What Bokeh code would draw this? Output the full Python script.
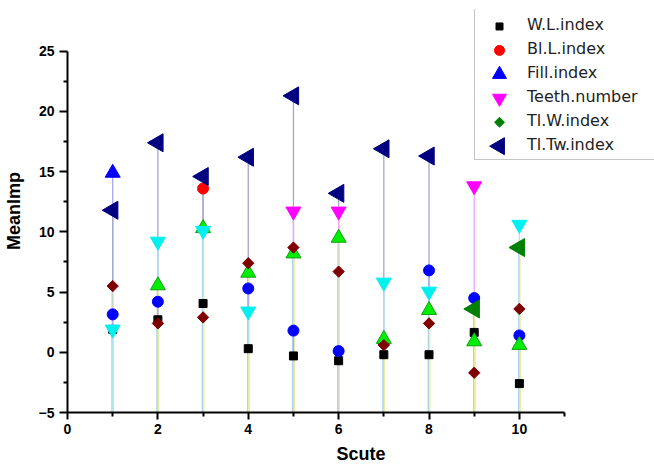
import math
from bokeh.plotting import figure
from bokeh.models import Legend, LegendItem, Range1d, FixedTicker, ColumnDataSource
from bokeh.embed import file_html
from bokeh.resources import INLINE

# ---------------- data ----------------
scute = [1, 2, 3, 4, 5, 6, 7, 8, 9, 10]
wl_index     = [1.9, 2.7, 4.05, 0.3, -0.3, -0.7, -0.2, -0.2, 1.65, -2.6]
bll_index    = [3.15, 4.2, 13.6, 5.3, 1.8, 0.1, 0.8, 6.8, 4.5, 1.4]
fill_index   = [14.9, 5.55, 10.3, 6.6, 8.2, 9.5, 1.1, 3.5, 0.9, 0.6]
teeth_number = [1.9, 9.2, 10.1, 3.4, 11.7, 11.7, 5.8, 5.05, 13.8, 10.6]
tlw_index    = [5.5, 2.4, 2.9, 7.4, 8.7, 6.7, 0.6, 2.4, -1.7, 3.6]
tltw_index   = [11.8, 17.4, 14.6, 16.2, 21.3, 13.2, 16.9, 16.3, 3.6, 8.7]

series_names = ["W.L.index", "Bl.L.index", "Fill.index", "Teeth.number", "Tl.W.index", "Tl.Tw.index"]
x_ticks = [0, 2, 4, 6, 8, 10]
x_minor = [1, 3, 5, 7, 9, 11]
y_ticks = [-5, 0, 5, 10, 15, 20, 25]
y_minor = [-2.5, 2.5, 7.5, 12.5, 17.5, 22.5]

# ---------------- styles ----------------
BLACK, RED, BLUE, MAGENTA = "#000000", "#ff0000", "#0000ff", "#ff00ff"
GREEN, NAVY, CYAN, LIME, BROWN = "#008000", "#000080", "#00f0f0", "#00ee00", "#800000"

wl_colors    = [BLACK] * 10
bll_colors   = [BLUE, BLUE, RED, BLUE, BLUE, BLUE, BLUE, BLUE, BLUE, BLUE]
fill_colors  = [BLUE] + [LIME] * 9
teeth_colors = [CYAN, CYAN, CYAN, CYAN, MAGENTA, MAGENTA, CYAN, CYAN, MAGENTA, CYAN]
tlw_colors   = [BROWN] * 10
tltw_colors  = [NAVY] * 8 + [GREEN, GREEN]

legend_colors = [BLACK, RED, BLUE, MAGENTA, GREEN, NAVY]
markers = ["square", "circle", "triangle", "inverted_triangle", "square", "triangle"]
sizes = [8, 11, 15, 15, 8, 18]
angles = [0, 0, 0, 0, math.pi / 4, math.pi / 2]
legend_sizes = [7, 10, 14, 14, 7, 17]

all_vals = [wl_index, bll_index, fill_index, teeth_number, tlw_index, tltw_index]
all_cols = [wl_colors, bll_colors, fill_colors, teeth_colors, tlw_colors, tltw_colors]

pale = {NAVY: ["#a6a6d2"], MAGENTA: ["#f2a6f2"], BLUE: ["#a8a8f4"], RED: ["#a6a6d2"],
        CYAN: ["#a6e6f2"]}
default_pale = ["#a8d4f4", "#eeee9a"]
outline = {LIME: "#10a010"}

Y0 = -5

# layout (pixels)
W, H = 654, 466
ML, MR, MT, MB = 67, 0, 9, 53
FW, FH = W - ML - MR, H - MT - MB
LEG_LEFT, LEG_TOP, LEG_PAD, LEG_ROW, LEG_GLYPH_W = 474, 11, 3, 24, 44

p = figure(width=W, height=H, x_range=Range1d(0, 12.99), y_range=Range1d(-5, 28.47),
           output_backend="svg", toolbar_location=None,
           min_border_left=ML, min_border_right=MR, min_border_top=MT, min_border_bottom=MB)
p.outline_line_color = None
p.xgrid.visible = False
p.ygrid.visible = False
p.background_fill_color = "white"
# pixel coordinate system of the frame, used only to place the legend keys
p.extra_x_ranges = {"px": Range1d(0, FW)}
p.extra_y_ranges = {"px": Range1d(0, FH)}

# ---- drop lines ----
sx0, sy0, sx1, sy1, sc = [], [], [], [], []
for i, xv in enumerate(scute):
    pts = [(all_vals[k][i], all_cols[k][i]) for k in range(6)]
    pts.sort(key=lambda t: -t[0])
    for v, c in pts:
        lc = pale.get(c, default_pale)
        offs = [0.0] if len(lc) == 1 else [-0.012, 0.012]
        for col, o in zip(lc, offs):
            sx0.append(xv + o); sx1.append(xv + o)
            sy0.append(Y0); sy1.append(v); sc.append(col)
p.segment(x0="x0", y0="y0", x1="x1", y1="y1", line_color="c", line_width=1.3,
          source=ColumnDataSource(dict(x0=sx0, y0=sy0, x1=sx1, y1=sy1, c=sc)))

# ---- markers ----
for k in range(6):
    src = ColumnDataSource(dict(x=scute, y=all_vals[k], c=all_cols[k],
                                lc=[outline.get(c, c) for c in all_cols[k]]))
    p.scatter("x", "y", source=src, marker=markers[k], size=sizes[k], angle=angles[k],
              fill_color="c", line_color="lc", line_width=1)

# ---- legend: box + labels from Legend, keys drawn in frame pixels ----
key_x = [LEG_LEFT - ML + LEG_PAD + LEG_GLYPH_W / 2] * 6
key_y = [FH - (LEG_TOP - MT) - LEG_PAD - LEG_ROW / 2 - LEG_ROW * k for k in range(6)]
key_src = ColumnDataSource(dict(x=key_x, y=key_y, m=markers, s=legend_sizes, a=angles,
                                c=legend_colors))
p.scatter(x="x", y="y", source=key_src, marker="m", size="s", angle="a", fill_color="c",
          line_color="c", x_range_name="px", y_range_name="px")

items = []
for k in range(6):
    r = p.scatter(x=[float("nan")], y=[float("nan")], marker="circle", size=1,
                  fill_alpha=0, line_alpha=0)
    items.append(LegendItem(label=series_names[k], renderers=[r]))
legend_h = 2 * LEG_PAD + 6 * LEG_ROW
legend = Legend(items=items, location=(LEG_LEFT - ML, FH - (LEG_TOP - MT) - legend_h),
                padding=LEG_PAD, spacing=0,
                glyph_width=LEG_GLYPH_W, glyph_height=LEG_ROW, label_height=20, label_standoff=5,
                label_width=124, label_text_font="DejaVu Sans", label_text_font_size="16px",
                label_text_color="#222222", border_line_color="#8c8c8c", border_line_width=1.5,
                background_fill_alpha=0, margin=0)
p.add_layout(legend, "center")

# ---- axes ----
for ax in (p.xaxis[0], p.yaxis[0]):
    ax.axis_line_width = 2
    ax.axis_line_color = "black"
    ax.major_tick_line_width = 2
    ax.minor_tick_line_width = 2
    ax.major_tick_in = 0
    ax.minor_tick_in = 0
    ax.major_label_text_font = "Liberation Sans"
    ax.major_label_text_font_style = "bold"
    ax.major_label_text_font_size = "14px"
    ax.major_label_text_color = "black"
    ax.axis_label_text_font = "Liberation Sans"
    ax.axis_label_text_font_style = "bold"
    ax.axis_label_text_font_size = "18px"
    ax.axis_label_text_color = "black"

p.xaxis.bounds = (0, 11)
p.yaxis.bounds = (-5, 25)
p.xaxis.ticker = FixedTicker(ticks=x_ticks, minor_ticks=x_minor)
p.yaxis.ticker = FixedTicker(ticks=y_ticks, minor_ticks=y_minor)
p.xaxis.major_tick_out = 7
p.xaxis.minor_tick_out = 4
p.yaxis.major_tick_out = 8
p.yaxis.minor_tick_out = 4
p.xaxis.major_label_standoff = 4
p.yaxis.major_label_standoff = 5
p.xaxis.axis_label = "Scute"
p.yaxis.axis_label = "MeanImp"
p.xaxis.axis_label_standoff = 7
p.yaxis.axis_label_standoff = 12

open("out.html", "w").write(file_html(p, INLINE))
